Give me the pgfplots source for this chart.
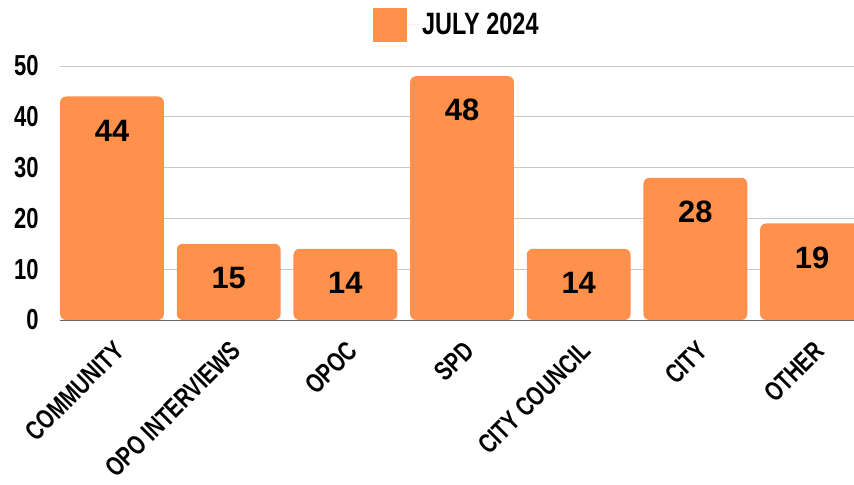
\documentclass[border=0pt]{standalone}
\usepackage{pgfplots}
\pgfplotsset{compat=1.18}
\usepackage{fontspec}
\setmainfont{Liberation Sans}
\newfontfamily\condfont{Liberation Sans}[FakeStretch=0.76]
\definecolor{barorange}{HTML}{FF914D}
\definecolor{gridgray}{HTML}{C8C8C8}

\begin{document}
\begin{tikzpicture}
\begin{axis}[
  scale only axis,
  width=794bp, height=254bp,
  xmin=-0.446, xmax=6.36,
  ymin=0, ymax=50,
  ytick={0,10,20,30,40,50},
  xtick={0,...,6},
  xticklabels={COMMUNITY,OPO INTERVIEWS,OPOC,SPD,CITY COUNCIL,CITY,OTHER},
  /pgf/number format/assume math mode=true,
  axis line style={draw=none},
  major tick length=0pt,
  ymajorgrids, grid style={gridgray, line width=0.8bp},
  yticklabel style={font=\condfont\bfseries\fontsize{29}{29}\selectfont, anchor=east, xshift=-18bp},
  xticklabel style={font=\condfont\bfseries\fontsize{27}{27}\selectfont, rotate=45, anchor=north east,
    inner sep=1bp, xshift=-12.5bp, yshift=-13bp},
  ybar, bar width=0.89,
  clip=true,
  nodes near coords,
  every node near coord/.append style={font=\bfseries\fontsize{31}{31}\selectfont, anchor=center, yshift=-34bp, text=black},
  legend style={draw=none, fill=none, at={(0.394,1)}, anchor=south west, yshift=24bp,
    font=\condfont\bfseries\fontsize{31}{31}\selectfont, inner sep=0pt},
  legend image code/.code={\fill[#1, sharp corners] (0bp,-17bp) rectangle (34bp,17bp);
    \path (0bp,0bp) -- (47bp,0bp);},
]
  \addplot[fill=barorange, draw=none, rounded corners=6bp] coordinates {
    (0,44) (1,15) (2,14) (3,48) (4,14) (5,28) (6,19)};
  \addlegendentry{JULY 2024}
  \draw[gray!80!black, line width=0.8bp] (axis cs:-0.446,0) -- (axis cs:6.36,0);
  \coordinate (bl) at (rel axis cs:0,0);
  \coordinate (tr) at (rel axis cs:1,1);
\end{axis}
\pgfresetboundingbox
\path[use as bounding box] ([xshift=-60bp,yshift=-165bp]bl) rectangle ([yshift=66bp]tr);
\end{tikzpicture}
\end{document}
